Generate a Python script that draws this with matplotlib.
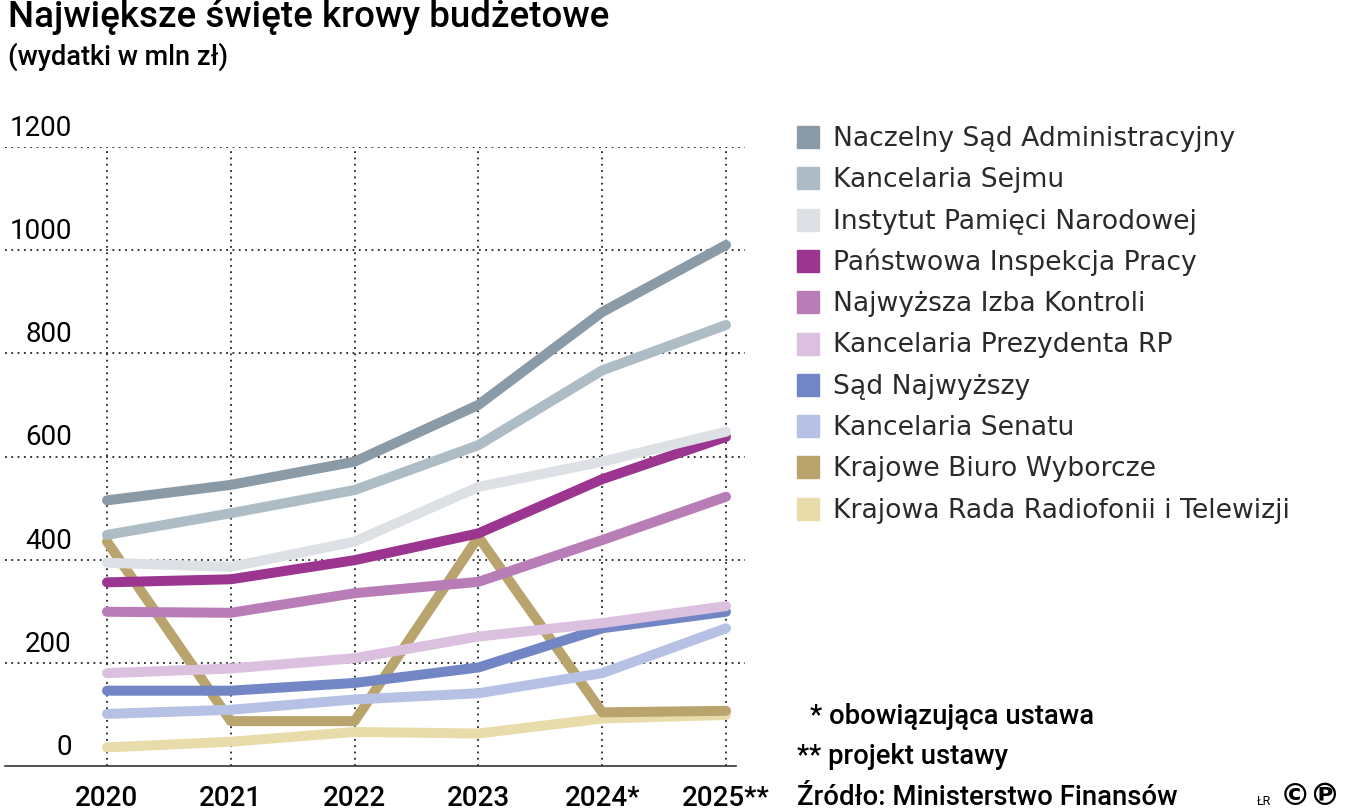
import matplotlib
matplotlib.use('Agg')
import matplotlib.pyplot as plt
from matplotlib.patches import Rectangle

# Dane (wydatki w mln zł)
lata = ['2020', '2021', '2022', '2023', '2024*', '2025**']

instytucje = [
    'Naczelny Sąd Administracyjny',
    'Kancelaria Sejmu',
    'Instytut Pamięci Narodowej',
    'Państwowa Inspekcja Pracy',
    'Najwyższa Izba Kontroli',
    'Kancelaria Prezydenta RP',
    'Sąd Najwyższy',
    'Kancelaria Senatu',
    'Krajowe Biuro Wyborcze',
    'Krajowa Rada Radiofonii i Telewizji',
]

nsa = [515, 545, 590, 700, 880, 1010]
sejm = [448, 490, 535, 622, 767, 855]
ipn = [394, 386, 435, 541, 590, 648]
pip = [356, 362, 399, 451, 556, 638]
nik = [299, 297, 335, 357, 438, 522]
prezydent = [180, 189, 209, 251, 277, 310]
sn = [146, 146, 161, 191, 267, 299]
senat = [101, 109, 129, 141, 180, 267]
kbw = [435, 87, 87, 444, 104, 107]
krrit = [36, 47, 66, 63, 92, 99]

wartosci = [nsa, sejm, ipn, pip, nik, prezydent, sn, senat, kbw, krrit]

kolory = ['#8a9aa6', '#aebcc6', '#dde1e5', '#9b3590', '#b87cb6',
          '#dcc0df', '#7286c6', '#b7c1e6', '#b9a46e', '#e8dcab']

y_ticki = [0, 200, 400, 600, 800, 1000, 1200]


def main():
    plt.rcParams['font.family'] = ['Roboto', 'DejaVu Sans']

    fig = plt.figure(figsize=(13.46, 8.08), dpi=100)
    W, H = 1346, 808
    ax = fig.add_axes([5 / W, 1 - 766 / H, 740 / W, (766 - 147) / H])

    x = list(range(len(lata)))
    px = 123.8
    ax.set_xlim(-102 / px, 5 + 19 / px)
    ax.set_ylim(0, 1200)

    # linie - od ostatniej, żeby pierwsza była na wierzchu
    for nazwa, y, kolor in reversed(list(zip(instytucje, wartosci, kolory))):
        ax.plot(x, y, color=kolor, lw=7.2, solid_capstyle='round',
                solid_joinstyle='round', clip_on=False)

    # siatka kropkowana
    for v in y_ticki[1:]:
        ax.axhline(v, color='#222222', lw=1.3, ls=(0, (1, 2.5)), zorder=0)
    for xi in x:
        ax.axvline(xi, color='#222222', lw=1.3, ls=(0, (1, 2.5)), zorder=0)

    for s in ['top', 'right', 'left']:
        ax.spines[s].set_visible(False)
    ax.spines['bottom'].set_color('#333333')
    ax.spines['bottom'].set_linewidth(1.2)
    ax.spines['bottom'].set_bounds(-102 / px, 5 + 10 / px)

    ax.set_yticks([])
    ax.set_xticks(x)
    ax.set_xticklabels(lata, fontsize=20, fontweight='medium')
    ax.tick_params(axis='x', length=0, pad=14)

    # etykiety osi Y nad liniami siatki, wyrównane do prawej
    for v in y_ticki:
        ax.annotate(str(v), xy=(67 / 740, v),
                    xycoords=ax.get_yaxis_transform(),
                    xytext=(0, 8), textcoords='offset points',
                    ha='right', va='baseline', fontsize=20)

    # tytuł
    fig.text(8 / W, 1 - 27 / H, 'Największe święte krowy budżetowe',
             fontsize=26.5, fontweight='medium', va='baseline', ha='left')
    fig.text(8 / W, 1 - 65 / H, '(wydatki w mln zł)',
             fontsize=19.5, fontweight='medium', va='baseline', ha='left')

    # legenda
    y0 = 137
    dy = 41.3
    for i, (nazwa, kolor) in enumerate(zip(instytucje, kolory)):
        yc = y0 + i * dy
        fig.add_artist(Rectangle((797 / W, 1 - (yc + 11) / H), 22 / W, 22 / H,
                                 transform=fig.transFigure, color=kolor))
        fig.text(833 / W, 1 - (yc + 9) / H, nazwa, fontsize=19.2,
                 family=['DejaVu Sans'], va='baseline', ha='left',
                 color='#2a2a2a')

    # przypisy
    fig.text(810 / W, 1 - 724 / H, '* obowiązująca ustawa', fontsize=19.8,
             fontweight='medium', va='baseline', ha='left')
    fig.text(797 / W, 1 - 764 / H, '** projekt ustawy', fontsize=19.8,
             fontweight='medium', va='baseline', ha='left')
    fig.text(797 / W, 1 - 805 / H, 'Źródło: Ministerstwo Finansów',
             fontsize=19.8, fontweight='medium', va='baseline', ha='left')
    fig.text(1257 / W, 1 - 805 / H, 'ŁR', fontsize=9, va='baseline',
             ha='left')
    fig.text(1280 / W, 1 - 805 / H, '©℗', fontsize=22, fontweight='bold',
             va='baseline', ha='left', family=['DejaVu Sans'])

    fig.savefig('out.png', dpi=100)


if __name__ == '__main__':
    main()
